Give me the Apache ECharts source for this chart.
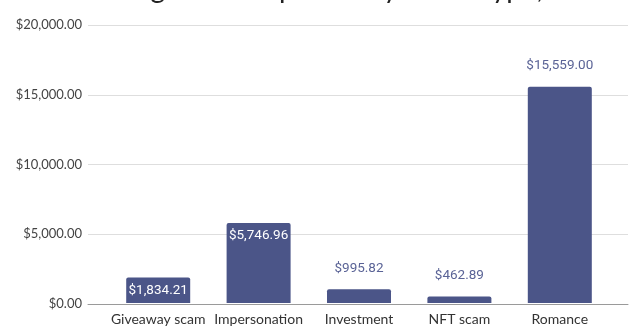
<!DOCTYPE html>
<html>
<head>
<meta charset="utf-8">
<script src="https://cdn.jsdelivr.net/npm/echarts@6/dist/echarts.min.js"></script>
<style>
  html, body { margin: 0; padding: 0; background: #fff; }
  #chart { width: 640px; height: 326px; }
</style>
</head>
<body>
<div id="chart"></div>
<script>
// Average loss per scam type
const categories = ['Giveaway scam', 'Impersonation', 'Investment', 'NFT scam', 'Romance'];
const avgLoss = [1834.21, 5746.96, 995.82, 462.89, 15559.00];
// Bars tall enough to hold their value label get it inside, others above
const labelInside = [true, true, false, false, false];
const yTicks = [0, 5000, 10000, 15000, 20000];

const money = v => '$' + Number(v).toLocaleString('en-US', { minimumFractionDigits: 2, maximumFractionDigits: 2 });

const barColor = '#4b5588';
const yMax = yTicks[yTicks.length - 1];
const yStep = yTicks[1] - yTicks[0];

const chart = echarts.init(document.getElementById('chart'), null, { renderer: 'canvas' });

chart.setOption({
  animation: false,
  title: {
    text: 'Average Loss Reported by Scam Type, 2022',
    left: 75,
    top: -30,
    textStyle: { fontFamily: 'Lato', fontSize: 28, fontWeight: 'normal', color: '#222' }
  },
  grid: [
    // full-width grid carrying the value axis and gridlines
    { left: 88, right: 12, top: 25, bottom: 22 },
    // inner grid where the bars sit
    { left: 108, right: 30, top: 25, bottom: 22 }
  ],
  xAxis: [
    {
      gridIndex: 0, type: 'value', min: 0, max: 1,
      axisLine: { show: true, lineStyle: { color: '#9a9a9a', width: 1 } },
      axisTick: { show: false }, axisLabel: { show: false }, splitLine: { show: false }
    },
    {
      gridIndex: 1, type: 'category', data: categories,
      axisLine: { show: false }, axisTick: { show: false },
      axisLabel: { fontFamily: 'Lato', fontSize: 14, color: '#333', margin: 9, interval: 0 }
    }
  ],
  yAxis: [
    {
      gridIndex: 0, type: 'value', min: 0, max: yMax, interval: yStep,
      axisLine: { show: false }, axisTick: { show: false },
      axisLabel: { fontFamily: 'Lato', fontSize: 13, color: '#444', margin: 6, formatter: money },
      splitLine: { lineStyle: { color: '#dedede', width: 1 } }
    },
    {
      gridIndex: 1, type: 'value', min: 0, max: yMax, interval: yStep,
      show: false, splitLine: { show: false }
    }
  ],
  series: [{
    type: 'bar',
    xAxisIndex: 1,
    yAxisIndex: 1,
    barWidth: 64,
    itemStyle: { color: barColor, borderRadius: [2, 2, 0, 0] },
    data: avgLoss.map((v, i) => ({
      value: v,
      label: labelInside[i]
        ? { show: true, position: 'insideTop', distance: 6, color: '#ffffff' }
        : { show: true, position: 'top', distance: 14, color: '#5a6396' }
    })),
    label: {
      show: true,
      fontFamily: 'Roboto',
      fontSize: 13.5,
      formatter: p => money(p.value)
    }
  }]
});
</script>
</body>
</html>
